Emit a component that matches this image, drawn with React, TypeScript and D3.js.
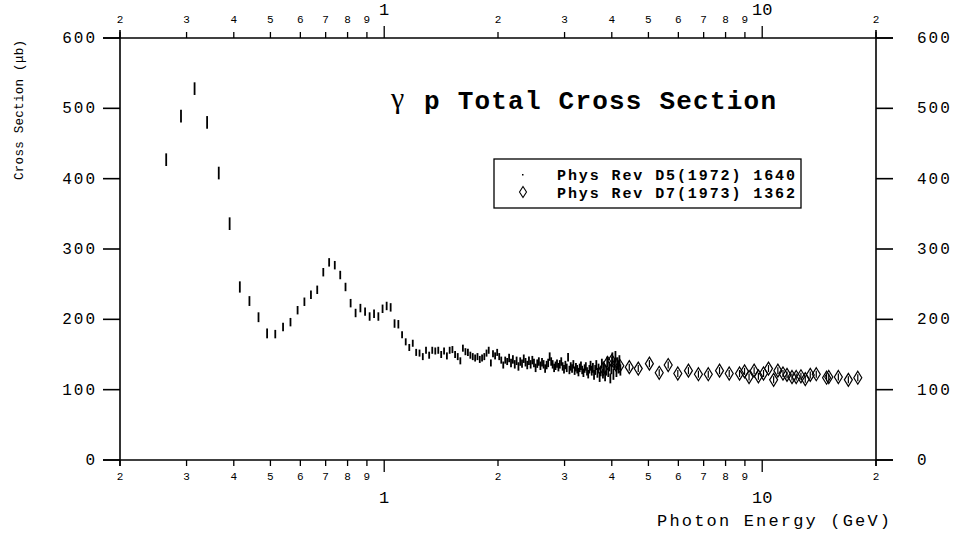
import React from "react";
import * as d3 from "d3";

const d5Energy = [
  0.265, 0.29, 0.315, 0.34, 0.365, 0.39, 0.415, 0.44, 0.465, 0.49,
  0.515, 0.54, 0.565, 0.59, 0.615, 0.64, 0.665, 0.69, 0.715, 0.74,
  0.765, 0.79, 0.815, 0.84, 0.865, 0.89, 0.915, 0.94, 0.965, 0.99,
  1.015, 1.04, 1.065, 1.09, 1.115, 1.14, 1.165, 1.19, 1.215, 1.24,
  1.265, 1.29, 1.315, 1.34, 1.365, 1.39, 1.415, 1.44, 1.465, 1.49,
  1.515, 1.54, 1.565, 1.59, 1.615, 1.64, 1.665, 1.69, 1.715, 1.74,
  1.765, 1.79, 1.815, 1.84, 1.865, 1.89, 1.915, 1.94, 1.965, 1.99,
  2.015, 2.04, 2.065, 2.09, 2.115, 2.14, 2.165, 2.19, 2.215, 2.24,
  2.265, 2.29, 2.315, 2.34, 2.365, 2.39, 2.415, 2.44, 2.465, 2.49,
  2.515, 2.54, 2.565, 2.59, 2.615, 2.64, 2.665, 2.69, 2.715, 2.74,
  2.765, 2.79, 2.815, 2.84, 2.865, 2.89, 2.915, 2.94, 2.965, 2.99,
  3.015, 3.04, 3.065, 3.09, 3.115, 3.14, 3.165, 3.19, 3.215, 3.24,
  3.265, 3.29, 3.315, 3.34, 3.365, 3.39, 3.415, 3.44, 3.465, 3.49,
  3.515, 3.54, 3.565, 3.59, 3.615, 3.64, 3.665, 3.69, 3.715, 3.74,
  3.765, 3.79, 3.815, 3.84, 3.865, 3.89, 3.915, 3.94, 3.965, 3.99,
  4.015, 4.04, 4.065, 4.09, 4.115, 4.14, 4.165, 4.19, 4.215,
];
const d5Sigma = [
  427, 489, 528, 480, 408, 336, 246, 226, 203, 180,
  179, 189, 196, 213, 225, 235, 242, 267, 281, 277,
  263, 246, 223, 209, 216, 211, 204, 208, 204, 215,
  219, 217, 194, 193, 178, 168, 160, 166, 153, 152,
  147, 156, 149, 156, 155, 156, 150, 155, 148, 156,
  157, 150, 147, 141, 159, 154, 153, 149, 147, 145,
  147, 143, 145, 147, 152, 156, 138, 151, 148, 153,
  147, 142, 135, 142, 140, 145, 138, 143, 136, 141,
  133, 140, 137, 144, 139, 135, 141, 136, 142, 138,
  131, 137, 140, 134, 139, 136, 130, 135, 138, 147,
  140, 136, 131, 134, 137, 132, 136, 140, 133, 129,
  135, 131, 146, 128, 133, 130, 136, 127, 132, 129,
  125, 131, 134, 128, 124, 130, 133, 126, 122, 129,
  134, 127, 131, 121, 128, 135, 124, 130, 118, 126,
  137, 123, 131, 119, 127, 140, 125, 133, 116, 129,
  145, 122, 136, 147, 126, 138, 131, 141, 128,
];
const d5Error = [
  9, 9, 9, 9, 9, 9, 8, 7, 7, 7,
  6, 6, 6, 6, 6, 6, 6, 6, 6, 6,
  6, 6, 6, 6, 6, 6, 6, 6, 6, 6,
  6, 6, 6, 6, 5, 5, 5, 5, 5, 5,
  5, 5, 5, 5, 5, 5, 5, 5, 5, 5,
  5, 5, 5, 5, 5, 5, 5, 5, 5, 5,
  5, 5, 5, 5, 5, 5, 5, 5, 5, 5,
  5, 5, 5, 5, 5, 6, 6, 6, 6, 6,
  6, 6, 6, 6, 6, 6, 6, 6, 6, 6,
  6, 6, 6, 6, 6, 6, 6, 6, 6, 6,
  6, 6, 6, 6, 6, 6, 6, 6, 6, 6,
  6, 6, 6, 6, 6, 6, 6, 6, 6, 6,
  6, 6, 6, 6, 6, 6, 6, 6, 6, 6,
  7, 7, 7, 7, 7, 7, 7, 7, 7, 7,
  7, 7, 7, 7, 7, 7, 7, 7, 7, 7,
  8, 8, 8, 8, 8, 8, 8, 8, 8,
];

const d7Energy = [
  3.8, 3.9, 4.0, 4.1, 4.2, 4.45, 4.7, 5.03, 5.34, 5.64,
  5.98, 6.38, 6.78, 7.2, 7.71, 8.18, 8.71, 8.98, 9.23, 9.52,
  9.77, 10.08, 10.39, 10.72, 11.0, 11.35, 11.63, 11.99, 12.3, 12.66,
  13.0, 13.4, 13.9, 14.8, 15.0, 15.9, 16.9, 17.9,
];
const d7Sigma = [
  130, 138, 141, 136, 134, 132, 130, 137, 124, 135,
  123, 127, 122, 122, 127, 123, 123, 126, 118, 127,
  119, 123, 130, 114, 127, 123, 121, 118, 118, 119,
  115, 121, 122, 117, 118, 118, 114, 117,
];
const d7Error = [
  6, 6, 6, 6, 6, 5, 5, 5, 5, 5,
  5, 5, 5, 5, 5, 5, 5, 5, 5, 5,
  5, 5, 5, 5, 5, 5, 5, 5, 5, 5,
  5, 5, 5, 5, 5, 5, 5, 5,
];

const minorTicks = [0.2, 0.3, 0.4, 0.5, 0.6, 0.7, 0.8, 0.9, 2, 3, 4, 5, 6, 7, 8, 9, 20];
const minorLabels = ["2", "3", "4", "5", "6", "7", "8", "9", "2", "3", "4", "5", "6", "7", "8", "9", "2"];
const majorTicks = [1, 10];
const majorLabels = ["1", "10"];
const yTicks = [0, 100, 200, 300, 400, 500, 600];
const yLabels = ["0", "100", "200", "300", "400", "500", "600"];

const titleGreek = "γ";
const titleText = "p Total Cross Section";
const legendLabels = ["Phys Rev D5(1972) 1640", "Phys Rev D7(1973) 1362"];
const xTitle = "Photon Energy (GeV)";
const yTitle = "Cross Section (μb)";

const W = 961;
const H = 535;
const L = 120, R = 876, T = 38, B = 460;
const FONT = "'Liberation Mono', 'DejaVu Sans Mono', monospace";

export default function App() {
  const x = d3.scaleLog().domain([0.2, 20]).range([L, R]);
  const y = d3.scaleLinear().domain([0, 600]).range([B, T]);

  const diamond = (cx: number, cy: number, hw: number, hh: number) =>
    `M${cx},${cy - hh}L${cx + hw},${cy}L${cx},${cy + hh}L${cx - hw},${cy}Z`;

  return (
    <svg width={W} height={H} style={{ position: "absolute", left: 0, top: 0, background: "#fff" }}>
      <rect x={0} y={0} width={W} height={H} fill="#fff" />
      {/* frame */}
      <line x1={L - 17} x2={R + 17} y1={B} y2={B} stroke="#000" strokeWidth={1.6} />
      <line x1={L - 17} x2={R + 17} y1={T} y2={T} stroke="#000" strokeWidth={1.6} />
      <line x1={L} x2={L} y1={T - 8} y2={B + 6} stroke="#000" strokeWidth={1.6} />
      <line x1={R} x2={R} y1={T - 8} y2={B + 6} stroke="#000" strokeWidth={1.6} />

      {/* y ticks */}
      {yTicks.map((v, i) => (
        <g key={"y" + i}>
          <line x1={L - 17} x2={L} y1={y(v)} y2={y(v)} stroke="#000" strokeWidth={1.6} />
          <line x1={R} x2={R + 17} y1={y(v)} y2={y(v)} stroke="#000" strokeWidth={1.6} />
          <text x={97} y={y(v) + 5} textAnchor="end" fontFamily={FONT} fontSize={16} letterSpacing={2}>
            {yLabels[i]}
          </text>
          <text x={917} y={y(v) + 5} textAnchor="start" fontFamily={FONT} fontSize={16} letterSpacing={2}>
            {yLabels[i]}
          </text>
        </g>
      ))}

      {/* x minor ticks */}
      {minorTicks.map((v, i) => (
        <g key={"m" + i}>
          <line x1={x(v)} x2={x(v)} y1={B} y2={B + 6} stroke="#000" strokeWidth={1.3} />
          <line x1={x(v)} x2={x(v)} y1={T} y2={T - 6} stroke="#000" strokeWidth={1.3} />
          <text x={x(v)} y={480} textAnchor="middle" fontFamily={FONT} fontSize={11}>
            {minorLabels[i]}
          </text>
          <text x={x(v)} y={23} textAnchor="middle" fontFamily={FONT} fontSize={11}>
            {minorLabels[i]}
          </text>
        </g>
      ))}
      {majorTicks.map((v, i) => (
        <g key={"M" + i}>
          <line x1={x(v)} x2={x(v)} y1={B} y2={B + 12} stroke="#000" strokeWidth={1.3} />
          <line x1={x(v)} x2={x(v)} y1={T} y2={T - 12} stroke="#000" strokeWidth={1.3} />
          <text x={x(v)} y={503} textAnchor="middle" fontFamily={FONT} fontSize={17}>
            {majorLabels[i]}
          </text>
          <text x={x(v)} y={15} textAnchor="middle" fontFamily={FONT} fontSize={17}>
            {majorLabels[i]}
          </text>
        </g>
      ))}

      {/* axis titles */}
      <text x={657} y={526} fontFamily={FONT} fontSize={17} textLength={233} lengthAdjust="spacing">
        {xTitle}
      </text>
      <text
        transform={`translate(23,110) rotate(-90)`}
        textAnchor="middle"
        fontFamily={FONT}
        fontSize={12.5}
        textLength={140}
        lengthAdjust="spacing"
      >
        {yTitle}
      </text>

      {/* title */}
      <text x={391} y={108} fontFamily="'Liberation Serif', 'DejaVu Serif', serif" fontSize={30}>
        {titleGreek}
      </text>
      <text x={424} y={109} fontFamily={FONT} fontSize={26} fontWeight="bold" textLength={352} lengthAdjust="spacing">
        {titleText}
      </text>

      {/* legend */}
      <rect x={494} y={159} width={307} height={49} fill="#fff" stroke="#000" strokeWidth={1.3} />
      <rect x={522} y={174} width={1.5} height={1.5} fill="#000" />
      <path d={diamond(523, 192, 3.5, 5.5)} fill="none" stroke="#000" strokeWidth={1.1} />
      <text x={557} y={180} fontFamily={FONT} fontSize={15} fontWeight="bold" textLength={238} lengthAdjust="spacing">
        {legendLabels[0]}
      </text>
      <text x={557} y={198} fontFamily={FONT} fontSize={15} fontWeight="bold" textLength={238} lengthAdjust="spacing">
        {legendLabels[1]}
      </text>

      {/* D5 data */}
      {d5Energy.map((e, i) => (
        <g key={"a" + i}>
          <line
            x1={x(e)}
            x2={x(e)}
            y1={y(d5Sigma[i] - d5Error[i])}
            y2={y(d5Sigma[i] + d5Error[i])}
            stroke="#000"
            strokeWidth={1.8}
          />
        </g>
      ))}

      {/* D7 data */}
      {d7Energy.map((e, i) => (
        <g key={"b" + i}>
          <line
            x1={x(e)}
            x2={x(e)}
            y1={y(d7Sigma[i] - d7Error[i])}
            y2={y(d7Sigma[i] + d7Error[i])}
            stroke="#000"
            strokeWidth={1.2}
          />
          <path d={diamond(x(e), y(d7Sigma[i]), 4, 6.5)} fill="none" stroke="#000" strokeWidth={1.2} />
        </g>
      ))}
    </svg>
  );
}
